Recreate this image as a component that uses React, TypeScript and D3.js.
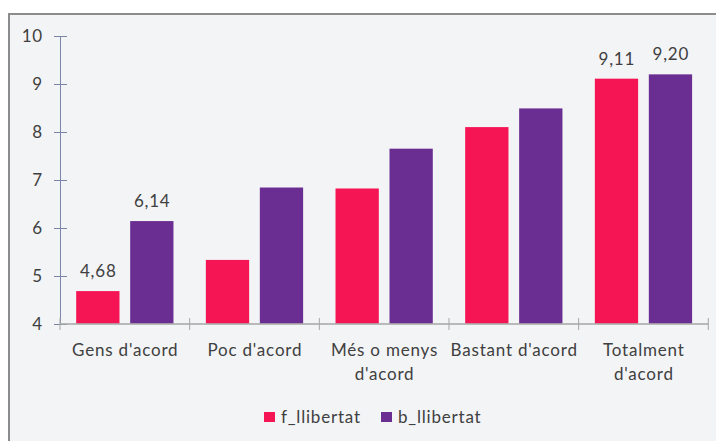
import React from "react";
import * as d3 from "d3";

const categories = ["Gens d'acord", "Poc d'acord", "Més o menys d'acord", "Bastant d'acord", "Totalment d'acord"];
const categoryLines = [["Gens d'acord"], ["Poc d'acord"], ["Més o menys", "d'acord"], ["Bastant d'acord"], ["Totalment", "d'acord"]];
const seriesNames = ["f_llibertat", "b_llibertat"];
const fValues = [4.68, 5.33, 6.82, 8.10, 9.11];
const bValues = [6.14, 6.84, 7.65, 8.49, 9.20];
const showValueLabel = [true, false, false, false, true];
const yTicks = [4, 5, 6, 7, 8, 9, 10];
const colors = ["#F51454", "#6A2D91"];

const W = 716;
const H = 441;
const FONT = "Lato, 'Liberation Sans', sans-serif";
const TEXT = "#404040";
const LS = 0.8;

export default function App() {
  const y = d3.scaleLinear().domain([4, 10]).range([323.7, 36]);
  const x0 = d3.scaleBand<string>().domain(categories).range([60, 708.3]);
  const x1 = d3
    .scaleBand<string>()
    .domain(seriesNames)
    .range([0, x0.bandwidth()])
    .paddingInner(0.198)
    .paddingOuter(0.3);
  const series = [fValues, bValues];
  const fmt = (v: number) => v.toFixed(2).replace(".", ",");
  const catTicks = [...categories.map((c) => x0(c) as number), 708.3];

  return (
    <svg width={W} height={H} style={{ position: "absolute", left: 0, top: 0 }} fontFamily={FONT}>
      <rect x={0} y={0} width={W} height={H} fill="#ffffff" />
      <rect x={9} y={14} width={W + 10} height={H + 10} fill="#F3F4F6" stroke="#8C8C8C" strokeWidth={2} />

      {/* bars */}
      {categories.map((c, i) => (
        <g key={c} transform={`translate(${x0(c)},0)`}>
          {series.map((vals, s) => (
            <rect
              key={s}
              x={x1(seriesNames[s])}
              y={y(vals[i])}
              width={x1.bandwidth()}
              height={y(4) - y(vals[i])}
              fill={colors[s]}
            />
          ))}
          {showValueLabel[i] &&
            series.map((vals, s) => (
              <text
                key={"l" + s}
                x={(x1(seriesNames[s]) as number) + x1.bandwidth() / 2 + LS / 2}
                y={y(vals[i]) - 14}
                textAnchor="middle"
                fontSize={17}
                letterSpacing={LS}
                fill={TEXT}
              >
                {fmt(vals[i])}
              </text>
            ))}
        </g>
      ))}

      {/* y axis */}
      <line x1={60.5} x2={60.5} y1={y(10)} y2={y(4)} stroke="#7A86A6" strokeWidth={1} />
      {yTicks.map((t) => (
        <g key={t}>
          <line x1={54} x2={67} y1={Math.round(y(t)) + 0.5} y2={Math.round(y(t)) + 0.5} stroke="#7A86A6" />
          <text x={43} y={y(t)} dy="0.35em" textAnchor="end" fontSize={17} letterSpacing={LS} fill={TEXT}>
            {t}
          </text>
        </g>
      ))}

      {/* x axis */}
      <line x1={60} x2={708.3} y1={324} y2={324} stroke="#A6A6A6" strokeWidth={1.5} />
      {catTicks.map((t, i) => (
        <line key={i} x1={t} x2={t} y1={318} y2={330} stroke="#A6A6A6" />
      ))}
      {categories.map((c, i) => {
        const cx = (x0(c) as number) + x0.bandwidth() / 2 + LS / 2;
        return (
          <text key={c} x={cx} y={356} textAnchor="middle" fontSize={17} letterSpacing={LS} fill={TEXT}>
            {categoryLines[i].map((ln, k) => (
              <tspan key={k} x={cx} dy={k === 0 ? 0 : 24}>
                {ln}
              </tspan>
            ))}
          </text>
        );
      })}

      {/* legend */}
      {seriesNames.map((n, s) => {
        const lx = s === 0 ? 264 : 381;
        return (
          <g key={n}>
            <rect x={lx} y={412} width={11} height={10} fill={colors[s]} />
            <text x={lx + 17} y={422.5} fontSize={17} letterSpacing={LS} fill={TEXT}>
              {n}
            </text>
          </g>
        );
      })}
    </svg>
  );
}
